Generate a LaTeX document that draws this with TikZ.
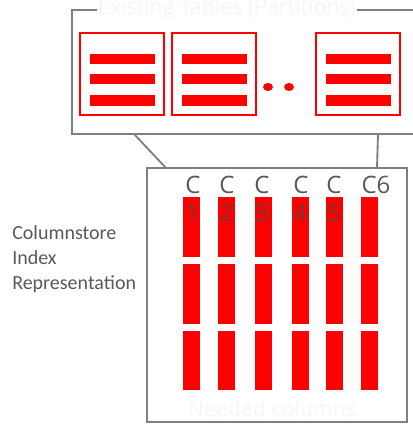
\documentclass[tikz,border=0pt]{standalone}
\usepackage{fontspec}
\setmainfont{Open Sans}
\newfontfamily\calib{Carlito}
\definecolor{framegray}{RGB}{128,128,128}
\definecolor{txtgray}{RGB}{89,89,89}
\definecolor{digitcol}{RGB}{120,55,55}
\definecolor{ghost}{RGB}{246,246,246}
\begin{document}
\begin{tikzpicture}[x=0.75pt,y=-0.75pt,
  frame/.style={draw=framegray, line width=1.4pt},
  part/.style={draw=red, line width=0.8pt, fill=white},
  bar/.style={fill=red, draw=none},
  colbar/.style={fill=red, draw=none},
  dot/.style={fill=red, draw=none},
  clabel/.style={text=txtgray, font=\fontsize{18pt}{20pt}\selectfont, inner sep=0pt},
  dlabel/.style={text=digitcol, font=\fontsize{18pt}{20pt}\selectfont, inner sep=0pt},
  ghosttext/.style={text=ghost, font=\fontsize{16pt}{18pt}\selectfont, inner sep=1pt}]
\useasboundingbox (0,0) rectangle (413,424);
% top frame (open on right)
\draw[frame] (413,10) -- (72,10) -- (72,134) -- (413,134);
\node[ghosttext, fill=white] (ttl) at (227,9) {Existing Tables (Partitions)};
% partitions
\foreach \x/\bx in {80/90,172/182,316/326}{
  \draw[part] (\x,33) rectangle ++(84,82);
  \fill[bar] (\bx,54) rectangle ++(65,10);
  \fill[bar] (\bx,74) rectangle ++(65,10);
  \fill[bar] (\bx,95) rectangle ++(65,11);
}
\fill[dot] (268,87) ellipse [x radius=5, y radius=4];
\fill[dot] (289,87) ellipse [x radius=5, y radius=4];
% connectors
\coordinate (a1) at (134,134);
\coordinate (a2) at (166,168);
\coordinate (b1) at (378,134);
\coordinate (b2) at (377,168);
\draw[frame] (a1) -- (a2);
\draw[frame] (b1) -- (b2);
% bottom frame
\draw[frame] (147,168) rectangle (407,422);
% columns
\foreach \x in {183,218,255,292,326,361}{
  \fill[colbar] (\x,197) rectangle ++(17,60);
  \fill[colbar] (\x,264) rectangle ++(17,60);
  \fill[colbar] (\x,331) rectangle ++(17,59);
}
\foreach \x/\n in {193/c1,227/c2,262/c3,301/c4,334/c5}{
  \node[clabel] (\n) at (\x,185) {C};
}
\node[clabel] (c6) at (376,185) {C6};
\foreach \x/\d in {192/1,226/2,261/3,300/4,334/5}{
  \node[dlabel] (d\d) at (\x,213) {\d};
}
\node[ghosttext] (need) at (272,408) {Needed columns};
\node[anchor=west, align=left, text=txtgray, inner sep=0pt,
  font=\calib\fontsize{15pt}{18.75pt}\selectfont] (lbl) at (12,259)
  {Columnstore\\Index\\Representation};
\end{tikzpicture}
\end{document}
